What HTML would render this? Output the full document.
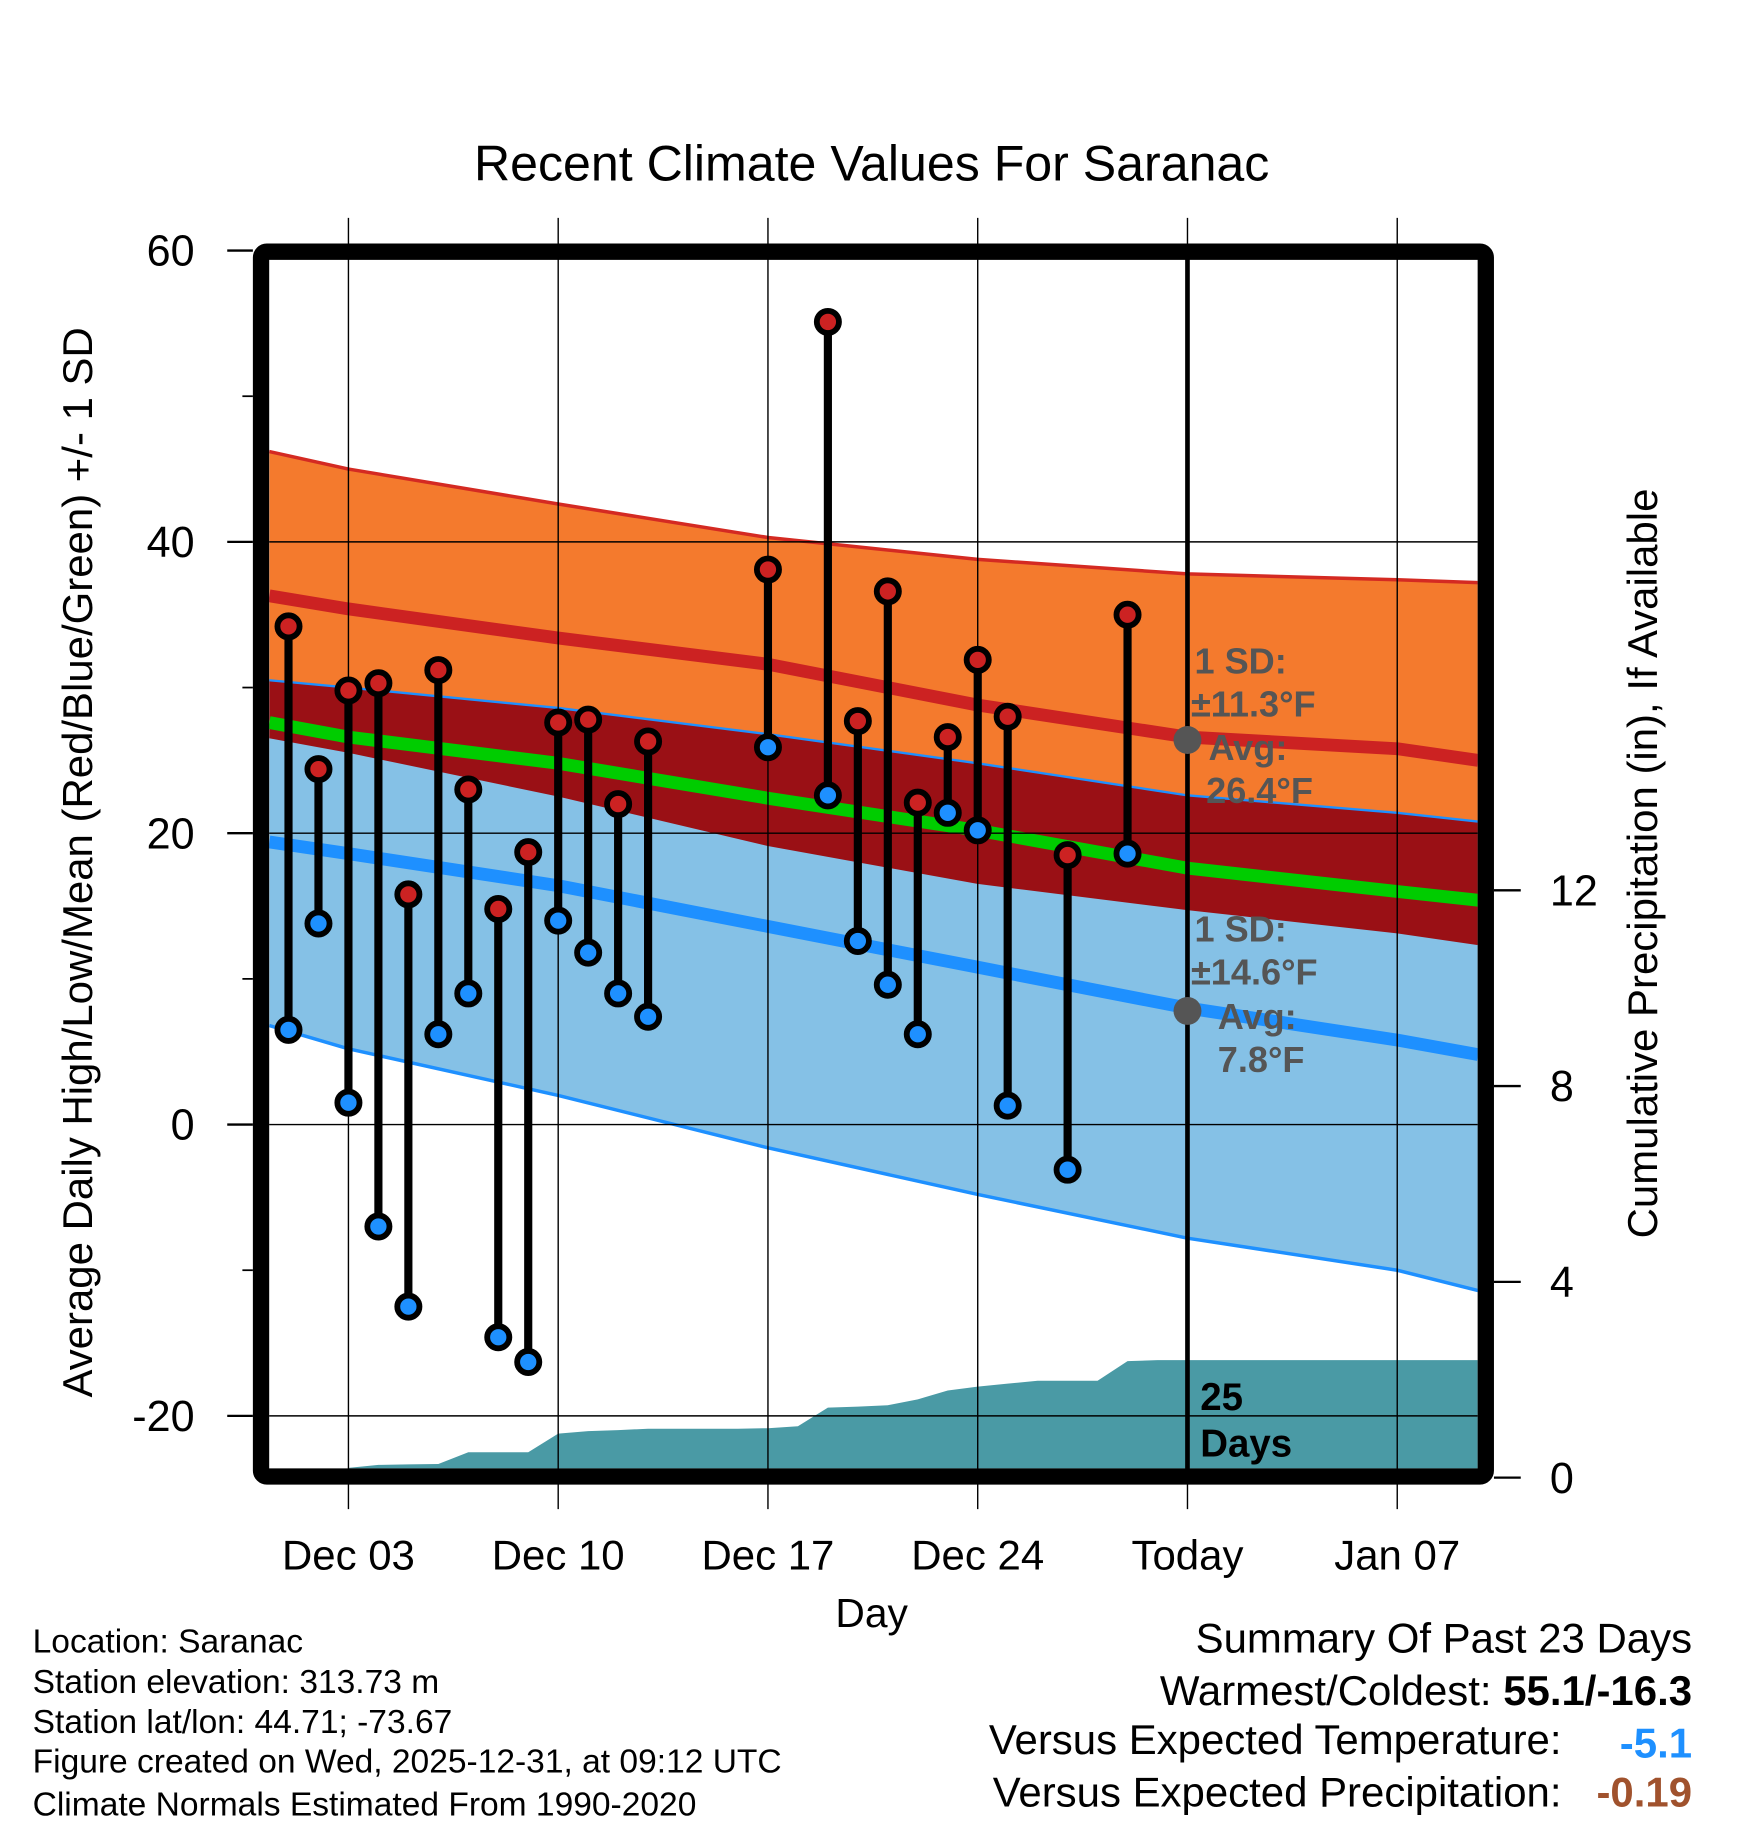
<!DOCTYPE html>
<html><head><meta charset="utf-8"><style>
html,body{margin:0;padding:0;background:#fff;}
svg{display:block;font-family:"Liberation Sans",sans-serif;}
</style></head><body>
<svg id="chart" width="1748" height="1828" viewBox="0 0 1500 1568.65" preserveAspectRatio="none" xmlns="http://www.w3.org/2000/svg">
<defs><clipPath id="plotclip"><rect x="231" y="222" width="1037" height="1038"/></clipPath></defs>
<g id="bands" clip-path="url(#plotclip)"></g>
<g id="grid"></g>
<g id="marks"></g>
<g id="frame"></g>
<g id="labels"></g>
<text x="748" y="155" font-size="43" text-anchor="middle">Recent Climate Values For Saranac</text>
<text x="748" y="1396" font-size="35" text-anchor="middle">Day</text>
<text transform="translate(79,740) rotate(-90)" font-size="36" text-anchor="middle">Average Daily High/Low/Mean (Red/Blue/Green) +/- 1 SD</text>
<text transform="translate(1422,741) rotate(-90)" font-size="36" text-anchor="middle">Cumulative Precipitation (in), If Available</text>
<g font-size="31" font-weight="bold" fill="#555">
<text x="1025" y="578">1 SD:</text><text x="1022" y="615">±11.3°F</text><text x="1037" y="652">Avg:</text><text x="1035" y="689">26.4°F</text></g>
<g font-size="31" font-weight="bold" fill="#555">
<text x="1025" y="808">1 SD:</text><text x="1022" y="845">±14.6°F</text><text x="1045" y="883">Avg:</text><text x="1045" y="920">7.8°F</text></g>
<text x="1030" y="1210" font-size="33" font-weight="bold">25</text>
<text x="1030" y="1250" font-size="33" font-weight="bold">Days</text>
<g font-size="28.8">
<text x="28" y="1418">Location: Saranac</text>
<text x="28" y="1453">Station elevation: 313.73 m</text>
<text x="28" y="1487">Station lat/lon: 44.71; -73.67</text>
<text x="28" y="1521">Figure created on Wed, 2025-12-31, at 09:12 UTC</text>
<text x="28" y="1558">Climate Normals Estimated From 1990-2020</text></g>
<g font-size="36">
<text x="1452" y="1418" text-anchor="end">Summary Of Past 23 Days</text>
<text x="1452" y="1463" text-anchor="end">Warmest/Coldest: <tspan font-weight="bold">55.1/-16.3</tspan></text>
<text x="1340" y="1505" text-anchor="end">Versus Expected Temperature:</text>
<text x="1452" y="1508" text-anchor="end" font-weight="bold" fill="#1e90ff">-5.1</text>
<text x="1340" y="1550" text-anchor="end">Versus Expected Precipitation:</text>
<text x="1452" y="1550" text-anchor="end" font-weight="bold" fill="#a0522d">-0.19</text></g>
</svg>
<script>
// ---- data ----
const obsDays = [1,2,3,4,5,6,7,8,9,10,11,12,13,17,19,20,21,22,23,24,25,27,29];
const highs = [34.2,24.4,29.8,30.3,15.8,31.2,23.0,14.8,18.7,27.6,27.8,22.0,26.3,38.1,55.1,27.7,36.6,22.1,26.6,31.9,28.0,18.5,35.0];
const lows = [6.5,13.8,1.5,-7.0,-12.5,6.2,9.0,-14.6,-16.3,14.0,11.8,9.0,7.4,25.9,22.6,12.6,9.6,6.2,21.4,20.2,1.3,-3.1,18.6];
const normDays = [0.36,3,10,17,24,31,38,40.7];
const highPlusSD = [46.2,45.0,42.6,40.3,38.8,37.8,37.4,37.2];
const highMean = [36.3,35.4,33.4,31.6,28.8,26.6,25.8,25.0];
const lowPlusSD = [30.5,30.0,28.6,26.8,24.8,22.6,21.4,20.8];
const meanAvg = [27.6,26.6,24.8,22.4,20.2,17.6,16.0,15.4];
const highMinusSD = [26.6,25.6,22.6,19.2,16.6,14.8,13.2,12.4];
const lowMean = [19.4,18.6,16.4,13.6,10.8,8.0,5.8,4.8];
const lowMinusSD = [6.8,5.2,2.0,-1.6,-4.8,-7.8,-10.0,-11.4];
const precipDays = [3,4,5,6,7,8,9,10,11,12,13,14,15,16,17,18,19,20,21,22,23,24,25,26,27,28,29,30,31,40.7];
const precip = [0.2,0.26,0.27,0.28,0.52,0.52,0.52,0.9,0.95,0.97,1.0,1.0,1.0,1.0,1.01,1.05,1.43,1.45,1.48,1.6,1.78,1.86,1.92,1.98,1.98,1.98,2.38,2.4,2.4,2.4];
const xTickDays = [3,10,17,24,31,38];
const xTickLabels = ["Dec 03","Dec 10","Dec 17","Dec 24","Today","Jan 07"];
const yTicks = [60,40,20,0,-20];
const yMinor = [50,30,10,-10];
const y2Ticks = [0,4,8,12];
const todayDay = 31;
const avgDots = [26.4,7.8];

// ---- axes ----
const X = d => 299 + (d-3)*180/7;
const Y = v => 965 - 12.5*v;
const Y2 = p => 1268 - 42*p;
const NS = "http://www.w3.org/2000/svg";
function mk(tag, parent, attrs){const e=document.createElementNS(NS,tag);for(const k in attrs)e.setAttribute(k,attrs[k]);parent.appendChild(e);return e;}
const bands=document.getElementById('bands'), grid=document.getElementById('grid'), marks=document.getElementById('marks'), frame=document.getElementById('frame'), labels=document.getElementById('labels');
const pts = arr => arr.map((v,i)=>X(normDays[i])+','+Y(v));
function band(top,bot,fill,name){
  const p = mk('polygon',bands,{points:pts(top).concat(pts(bot).reverse()).join(' '),fill:fill});
  
  
}
band(highPlusSD,highMinusSD,'#f47a2d','high-sd-band');
band(lowPlusSD,lowMinusSD,'#85c1e6','low-sd-band');
band(lowPlusSD,highMinusSD,'#9a1015','overlap-band');
function line(arr,color,w,name){
  const l = mk('polyline',bands,{points:pts(arr).join(' '),fill:'none',stroke:color,'stroke-width':w,'stroke-linejoin':'round'});
  
  
}
line(highPlusSD,'#d42a22',3,'high-plus-sd-line');
line(lowPlusSD,'#1e90ff',2,'low-plus-sd-line');
line(highMinusSD,'#9a1015',2,'high-minus-sd-line');
line(lowMinusSD,'#1e90ff',3,'low-minus-sd-line');
line(highMean,'#cc2222',11,'high-mean-line');
line(meanAvg,'#00cc00',11,'mean-line');
line(lowMean,'#1e90ff',11,'low-mean-line');
// precip area
let pp = precipDays.map((d,i)=>X(d)+','+Y2(precip[i]));
pp.push(X(40.7)+',1262', X(3)+',1262');
const pa = mk('polygon',bands,{points:pp.join(' '),fill:'#4a9aa5'});


// grid
yTicks.forEach(v=>{
  const g=mk('line',grid,{x1:231,x2:1268,y1:Y(v),y2:Y(v),stroke:'#000','stroke-width':1.2});
  
  
  const t=mk('line',grid,{x1:195,x2:217,y1:Y(v),y2:Y(v),stroke:'#000','stroke-width':2});
  
  
  const tx=mk('text',labels,{x:167,y:Y(v)+13,'font-size':37,'text-anchor':'end'});
  tx.textContent=String(v);
  
  
});
yMinor.forEach(v=>{
  const t=mk('line',grid,{x1:208,x2:217,y1:Y(v),y2:Y(v),stroke:'#000','stroke-width':1.5});
  
  
});
xTickDays.forEach((d,i)=>{
  const g=mk('line',grid,{x1:X(d),x2:X(d),y1:187,y2:1295,stroke:'#000','stroke-width':1.2});
  
  
  const tx=mk('text',labels,{x:X(d),y:1347,'font-size':36,'text-anchor':'middle'});
  tx.textContent=xTickLabels[i];
  
  
});
y2Ticks.forEach(p=>{
  const t=mk('line',grid,{x1:1282,x2:1305,y1:Y2(p),y2:Y2(p),stroke:'#000','stroke-width':2});
  
  
  const tx=mk('text',labels,{x:1330,y:Y2(p)+13,'font-size':37});
  tx.textContent=String(p);
  
  
});
const tl=mk('line',grid,{x1:X(todayDay),x2:X(todayDay),y1:210,y2:1262,stroke:'#000','stroke-width':4});


avgDots.forEach(v=>{
  const c=mk('circle',grid,{cx:X(todayDay),cy:Y(v),r:12,fill:'#555'});
  
  
});
// observations
obsDays.forEach((d,i)=>{
  const s=mk('line',marks,{x1:X(d),x2:X(d),y1:Y(highs[i]),y2:Y(lows[i]),stroke:'#000','stroke-width':7});
  
  
  const h=mk('circle',marks,{cx:X(d),cy:Y(highs[i]),r:9.5,fill:'#cc2222',stroke:'#000','stroke-width':5});
  
  
  const l=mk('circle',marks,{cx:X(d),cy:Y(lows[i]),r:9.5,fill:'#1e90ff',stroke:'#000','stroke-width':5});
  
  
});
const fr=mk('rect',frame,{x:224,y:216,width:1051,height:1051,rx:5,fill:'none',stroke:'#000','stroke-width':14});


</script>
</body></html>
